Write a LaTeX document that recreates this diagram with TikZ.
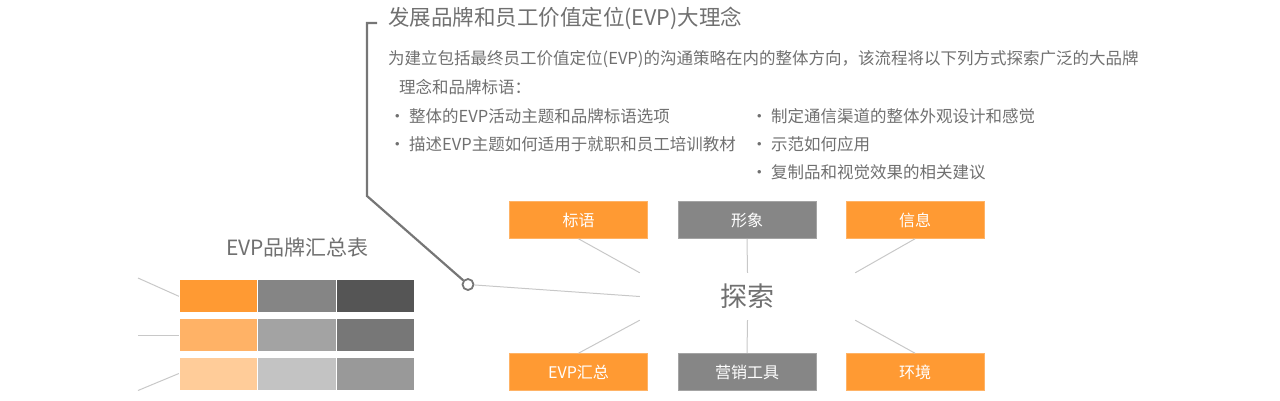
\documentclass[tikz,border=0pt]{standalone}
\usepackage{fontspec}
\newfontfamily\cjk{Noto Sans CJK SC}
\usetikzlibrary{positioning}
\definecolor{myOrange}{RGB}{255,154,51}
\definecolor{myGray}{RGB}{134,134,134}
\definecolor{txtGray}{RGB}{112,112,112}
\definecolor{lineGray}{RGB}{200,200,200}
\definecolor{brGray}{RGB}{118,118,118}

\begin{document}
\begin{tikzpicture}[x=1pt, y=-1pt, every node/.style={font=\cjk},
	box/.style={minimum width=138pt, minimum height=37pt, inner sep=0, text=white, font=\cjk\fontsize{16}{19}\selectfont},
	obox/.style={box, fill=myOrange, draw=myOrange!75!white, line width=0.6pt},
	gbox/.style={box, fill=myGray, draw=myGray!75!white, line width=0.6pt},
	cell/.style={minimum width=78.5pt, minimum height=33pt, inner sep=0, draw=white, line width=0.8pt},
	txt/.style={anchor=west, inner sep=0, text=txtGray, font=\cjk\fontsize{16.5}{20}\selectfont},
	link/.style={draw=lineGray, line width=1pt},
	bracket/.style={draw=brGray, line width=2.2pt}]
		\useasboundingbox (0,0) rectangle (1280,400);
		% Heading and description
		\node[txt, font=\cjk\fontsize{21.5}{26}\selectfont] (title) at (388,18.5) {发展品牌和员工价值定位(EVP)大理念};
		\node[txt] (para1) at (388,59) {为建立包括最终员工价值定位(EVP)的沟通策略在内的整体方向，该流程将以下列方式探索广泛的大品牌};
		\node[txt] (para2) at (399,87) {理念和品牌标语：};
		\node[txt] (b1) at (389,116) {·\hspace{3.5pt}整体的EVP活动主题和品牌标语选项};
		\node[txt] (b2) at (389,144) {·\hspace{3.5pt}描述EVP主题如何适用于就职和员工培训教材};
		\node[txt] (b3) at (751,116) {·\hspace{3.5pt}制定通信渠道的整体外观设计和感觉};
		\node[txt] (b4) at (751,144) {·\hspace{3.5pt}示范如何应用};
		\node[txt] (b5) at (751,172) {·\hspace{3.5pt}复制品和视觉效果的相关建议};
		% Bracket to hub
		\coordinate (brTop) at (377,23);
		\coordinate (brCorner) at (367,23);
		\coordinate (brBend) at (367,196);
		\node[circle, draw=brGray, line width=1.8pt, fill=white, minimum size=11pt, inner sep=0] (hub) at (468,284.5) {};
		\draw[bracket, line join=miter] (brTop) -- (brCorner) -- (brBend) -- (hub);
		% Explore centre
		\node[minimum width=215pt, minimum height=47pt, inner sep=0, text=txtGray, font=\cjk\fontsize{27}{32}\selectfont] (explore) at (747.5,296.5) {探索};
		\draw[link] (hub) -- (explore.west);
		% Boxes
		\node[obox] (slogan) at (578.5,220) {标语};
		\node[gbox] (image) at (747,220) {形象};
		\node[obox] (message) at (915,220) {信息};
		\node[obox] (summary) at (578.5,372) {EVP汇总};
		\node[gbox] (tools) at (747,372) {营销工具};
		\node[obox] (setting) at (915,372) {环境};
		\draw[link] (slogan.south) -- (explore.north west);
		\draw[link] (image.south) -- (explore.north);
		\draw[link] (message.south) -- (explore.north east);
		\draw[link] (summary.north) -- (explore.south west);
		\draw[link] (tools.north) -- (explore.south);
		\draw[link] (setting.north) -- (explore.south east);
		% Summary table
		\node[text=txtGray, inner sep=0, font=\cjk\fontsize{21}{25}\selectfont] (tabTitle) at (297.5,248) {EVP品牌汇总表};
		\node[cell, fill={rgb,255:red,255;green,154;blue,51}] (c11) at (218.5,296.3) {};
		\node[cell, fill={rgb,255:red,133;green,133;blue,133}] (c12) at (297,296.3) {};
		\node[cell, fill={rgb,255:red,85;green,85;blue,85}] (c13) at (375.5,296.3) {};
		\node[cell, fill={rgb,255:red,255;green,178;blue,102}] (c21) at (218.5,335.2) {};
		\node[cell, fill={rgb,255:red,163;green,163;blue,163}] (c22) at (297,335.2) {};
		\node[cell, fill={rgb,255:red,119;green,119;blue,119}] (c23) at (375.5,335.2) {};
		\node[cell, fill={rgb,255:red,255;green,204;blue,153}] (c31) at (218.5,373.5) {};
		\node[cell, fill={rgb,255:red,195;green,195;blue,195}] (c32) at (297,373.5) {};
		\node[cell, fill={rgb,255:red,153;green,153;blue,153}] (c33) at (375.5,373.5) {};
		\coordinate (l1) at (138,278);
		\coordinate (l2) at (138,335.2);
		\coordinate (l3) at (138,390.5);
		\draw[link] (l1) -- (c11.west);
		\draw[link] (l2) -- (c21.west);
		\draw[link] (l3) -- (c31.west);
	\end{tikzpicture}
\end{document}
